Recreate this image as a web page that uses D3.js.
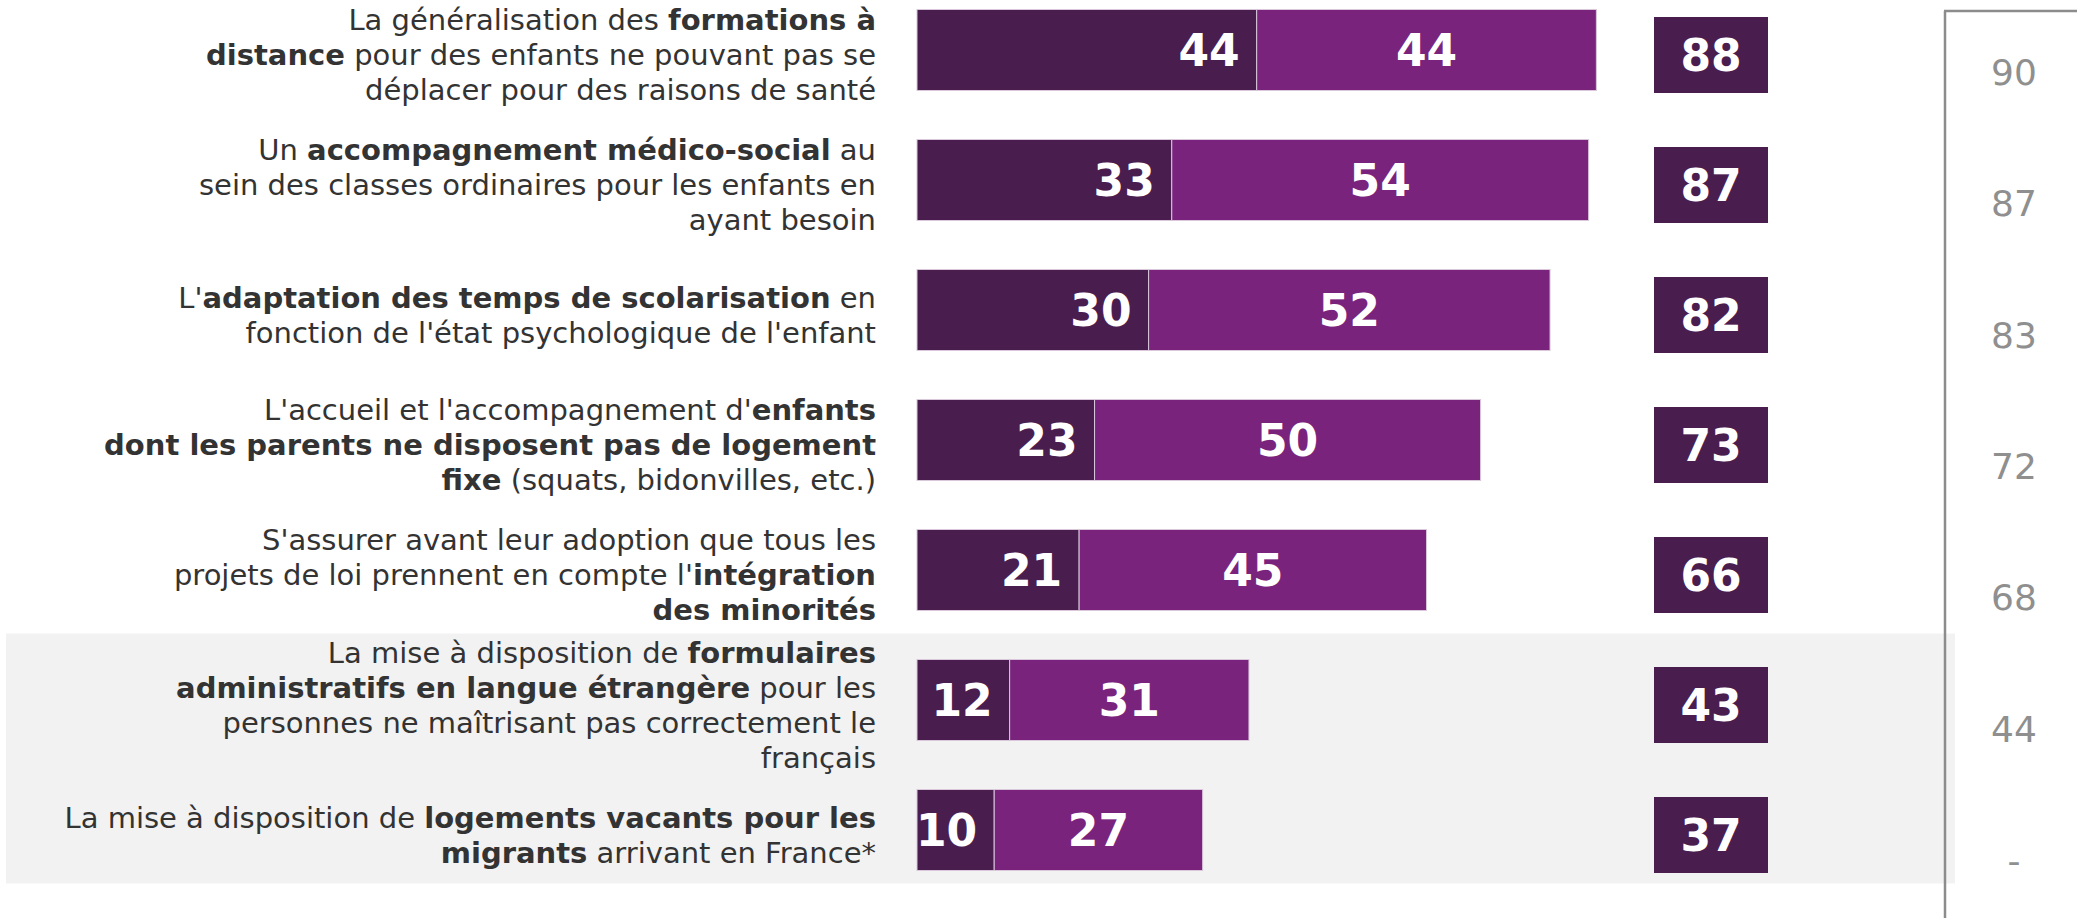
<!DOCTYPE html>
<html>
  <head>
    <meta charset="utf-8" />
    <title>Mesures</title>
    <script src="https://d3js.org/d3.v7.min.js"></script>
    <style>
        body { margin: 0; background-color: white; }
        svg { display: block; }
    </style>
  </head>
  <body>
    <svg id="chart_svg"></svg>
  </body>
  <script>
    // libellés (** = gras, \n = retour à la ligne)
    const labels = [
        "La généralisation des **formations à**\n**distance** pour des enfants ne pouvant pas se\ndéplacer pour des raisons de santé",
        "Un **accompagnement médico-social** au\nsein des classes ordinaires pour les enfants en\nayant besoin",
        "L'**adaptation des temps de scolarisation** en\nfonction de l'état psychologique de l'enfant",
        "L'accueil et l'accompagnement d'**enfants**\n**dont les parents ne disposent pas de logement**\n**fixe** (squats, bidonvilles, etc.)",
        "S'assurer avant leur adoption que tous les\nprojets de loi prennent en compte l'**intégration**\n**des minorités**",
        "La mise à disposition de **formulaires**\n**administratifs en langue étrangère** pour les\npersonnes ne maîtrisant pas correctement le\nfrançais",
        "La mise à disposition de **logements vacants pour les**\n**migrants** arrivant en France*"
    ];
    const tresFavorable = [44, 33, 30, 23, 21, 12, 10];
    const plutotFavorable = [44, 54, 52, 50, 45, 31, 27];
    const totalFavorable = [88, 87, 82, 73, 66, 43, 37];
    const rappel = ["90", "87", "83", "72", "68", "44", "-"];
    const highlighted = [5, 6];

    const width = 2077, height = 918;
    const darkPurple = "#4a1d4f";
    const lightPurple = "#79237d";

    const svg = d3.select("#chart_svg")
        .attr("width", width)
        .attr("height", height);

    const rows = labels.map((l, i) => ({
        label: l,
        dark: tresFavorable[i],
        light: plutotFavorable[i],
        total: totalFavorable[i],
        i: i
    }));

    const x = d3.scaleLinear().domain([0, 100]).range([917, 1689]);
    const y = d3.scaleBand()
        .domain(d3.range(rows.length))
        .range([-15, 895])
        .paddingInner(0.377)
        .paddingOuter(0.1885);
    const bw = y.bandwidth();

    // fond gris des deux dernières lignes
    svg.append("rect")
        .attr("x", 6)
        .attr("y", y(highlighted[0]) - 26)
        .attr("width", 1955 - 6)
        .attr("height", y(highlighted[highlighted.length - 1]) + bw + 13 - (y(highlighted[0]) - 26))
        .style("fill", "#f2f2f2");

    // cadre de la colonne de rappel
    svg.append("line")
        .attr("x1", 1945).attr("x2", 1945)
        .attr("y1", 11).attr("y2", height)
        .style("stroke", "#8c8c8c")
        .style("stroke-width", 2.5);
    svg.append("line")
        .attr("x1", 1944).attr("x2", width)
        .attr("y1", 11).attr("y2", 11)
        .style("stroke", "#8c8c8c")
        .style("stroke-width", 2.5);

    const g = svg.append("g");

    // barres
    g.selectAll("rect.dark")
        .data(rows)
        .enter()
        .append("rect")
        .attr("class", "dark")
        .attr("x", x(0))
        .attr("y", d => y(d.i))
        .attr("width", d => x(d.dark) - x(0))
        .attr("height", bw)
        .style("fill", darkPurple)
        .style("stroke", "#d8c8da")
        .style("stroke-width", 1);

    g.selectAll("rect.light")
        .data(rows)
        .enter()
        .append("rect")
        .attr("class", "light")
        .attr("x", d => x(d.dark))
        .attr("y", d => y(d.i))
        .attr("width", d => x(d.dark + d.light) - x(d.dark))
        .attr("height", bw)
        .style("fill", lightPurple)
        .style("stroke", "#d8c8da")
        .style("stroke-width", 1);

    g.selectAll("text.dark")
        .data(rows)
        .enter()
        .append("text")
        .attr("class", "dark")
        .attr("x", d => x(d.dark) - 17)
        .attr("y", d => y(d.i) + bw / 2)
        .attr("dy", "0.36em")
        .attr("text-anchor", "end")
        .attr("font-family", "DejaVu Sans")
        .attr("font-weight", "bold")
        .attr("font-size", "44px")
        .attr("fill", "white")
        .text(d => d.dark);

    g.selectAll("text.light")
        .data(rows)
        .enter()
        .append("text")
        .attr("class", "light")
        .attr("x", d => (x(d.dark) + x(d.dark + d.light)) / 2)
        .attr("y", d => y(d.i) + bw / 2)
        .attr("dy", "0.36em")
        .attr("text-anchor", "middle")
        .attr("font-family", "DejaVu Sans")
        .attr("font-weight", "bold")
        .attr("font-size", "44px")
        .attr("fill", "white")
        .text(d => d.light);

    // totaux
    g.selectAll("rect.total")
        .data(rows)
        .enter()
        .append("rect")
        .attr("class", "total")
        .attr("x", 1654)
        .attr("y", d => y(d.i) + bw / 2 + 5 - 38)
        .attr("width", 114)
        .attr("height", 76)
        .style("fill", darkPurple);

    g.selectAll("text.total")
        .data(rows)
        .enter()
        .append("text")
        .attr("class", "total")
        .attr("x", 1654 + 57)
        .attr("y", d => y(d.i) + bw / 2 + 5)
        .attr("dy", "0.36em")
        .attr("text-anchor", "middle")
        .attr("font-family", "DejaVu Sans")
        .attr("font-weight", "bold")
        .attr("font-size", "44px")
        .attr("fill", "white")
        .text(d => d.total);

    // colonne de rappel
    const yr = d3.scalePoint().domain(d3.range(rappel.length)).range([72, 860]);
    svg.selectAll("text.rappel")
        .data(rappel)
        .enter()
        .append("text")
        .attr("class", "rappel")
        .attr("x", 2014)
        .attr("y", (d, i) => yr(i))
        .attr("dy", "0.36em")
        .attr("text-anchor", "middle")
        .attr("font-family", "DejaVu Sans")
        .attr("font-size", "36px")
        .attr("fill", "#8f8f8f")
        .text(d => d);

    // libellés
    const lineH = 35;
    const labelG = svg.append("g");
    rows.forEach(d => {
        const lines = d.label.split("\n");
        const cy = y(d.i) + bw / 2 + 5;
        const t = labelG.append("text")
            .attr("text-anchor", "end")
            .attr("font-family", "DejaVu Sans")
            .attr("font-size", "29px")
            .attr("fill", "#333333");
        lines.forEach((line, k) => {
            const ly = cy + (k - (lines.length - 1) / 2) * lineH;
            const tl = t.append("tspan")
                .attr("x", 876)
                .attr("y", ly)
                .attr("dy", "0.36em");
            line.split("**").forEach((part, j) => {
                if (part === "") return;
                tl.append("tspan")
                    .attr("font-weight", j % 2 === 1 ? "bold" : "normal")
                    .text(part);
            });
        });
    });
  </script>
</html>
